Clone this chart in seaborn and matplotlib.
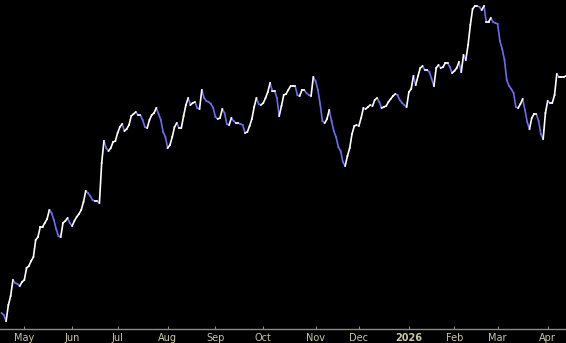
import numpy as np
import pandas as pd
import matplotlib
matplotlib.use("Agg")
import matplotlib.pyplot as plt
import seaborn as sns

# NYSE holidays in the period
holidays = ["2025-04-18", "2025-05-26", "2025-06-19", "2025-07-04", "2025-09-01",
            "2025-11-27", "2025-12-25", "2026-01-01", "2026-01-19", "2026-02-16",
            "2026-04-03"]
start_date = "2025-04-16"
end_date = "2026-04-14"

# closing level (one per trading day)
values_px = [
    313, 315, 321, 305, 296, 280, 283, 284, 286, 282,
    280, 268, 266, 261, 257, 240, 237, 227, 227, 223,
    219, 210, 213, 220, 229, 236, 237, 223, 221, 218,
    223, 226, 221, 217, 214, 210, 202, 191, 193, 196,
    200, 201, 201, 203, 163, 141, 148, 151, 148, 142,
    141, 133, 127, 124, 131, 129, 125, 116, 114, 112,
    115, 115, 120, 127, 128, 120, 115, 113, 108, 114,
    120, 132, 137, 148, 145, 137, 127, 123, 128, 128,
    116, 105, 98, 105, 103, 102, 108, 109, 90, 98,
    101, 102, 104, 108, 117, 119, 118, 109, 113, 124,
    125, 118, 121, 123, 123, 124, 125, 133, 132, 126,
    119, 107, 98, 104, 105, 103, 98, 92, 83, 91,
    91, 98, 116, 106, 95, 94, 90, 86, 86, 86,
    95, 96, 90, 90, 93, 95, 96, 77, 81, 90,
    104, 121, 123, 119, 110, 121, 131, 137, 147, 151,
    162, 166, 156, 148, 134, 126, 125, 126, 118, 108,
    109, 107, 105, 106, 100, 98, 102, 108, 107, 106,
    102, 99, 96, 94, 95, 100, 103, 105, 107, 92,
    89, 76, 85, 76, 68, 66, 70, 70, 72, 79,
    86, 68, 65, 68, 67, 63, 63, 67, 73, 71,
    68, 62, 72, 55, 60, 45, 25, 9, 6, 6,
    7, 10, 6, 22, 22, 18, 22, 23, 24, 41,
    49, 60, 80, 86, 89, 93, 107, 108, 104, 99,
    110, 122, 129, 118, 114, 114, 121, 134, 139, 113,
    101, 103, 103, 95, 74, 77, 77, 77, 76,
]
values = [330 - v for v in values_px]

month_labels = ["May", "Jun", "Jul", "Aug", "Sep", "Oct", "Nov", "Dec",
                "2026", "Feb", "Mar", "Apr"]

dates = pd.bdate_range(start_date, end_date, freq="C", holidays=holidays)
n = min(len(dates), len(values))
dates = dates[:n]
vals = np.array(values[:n], dtype=float)
idx = np.arange(n)

# build up/down segments
rows = []
for k in range(n - 1):
    d = "up" if vals[k + 1] >= vals[k] else "down"
    rows.append((k, idx[k], vals[k], d))
    rows.append((k, idx[k + 1], vals[k + 1], d))
seg = pd.DataFrame(rows, columns=["seg", "x", "y", "dir"])

fig = plt.figure(figsize=(5.66, 3.43), dpi=100, facecolor="black")
ax = fig.add_axes([0, 14 / 343, 1, 329 / 343])
ax.set_facecolor("black")

sns.lineplot(data=seg, x="x", y="y", units="seg", hue="dir", estimator=None,
             palette={"up": "#ffffff", "down": "#6c6cec"}, linewidth=1.2,
             legend=False, ax=ax, sort=False)

# month ticks at first trading day of each month
s = pd.Series(idx, index=dates)
first = s.groupby([dates.year, dates.month]).first()
tick_pos = list(first.values[1:1 + len(month_labels)])

i0 = list(dates).index(pd.Timestamp("2025-05-01"))
ax.set_xlim(i0 - 10.68, i0 + 238.0 - 0.0 + (566 - 24.3) / 2.2757 - 238.0)
ax.set_ylim(1, 330)
ax.set_xticks(tick_pos)
ax.set_xticklabels(month_labels)
ax.set_yticks([])
ax.set_xlabel("")
ax.set_ylabel("")
for sp in ["top", "left", "right"]:
    ax.spines[sp].set_visible(False)
ax.spines["bottom"].set_color("#8c8c8c")
ax.spines["bottom"].set_linewidth(1.0)
ax.tick_params(axis="x", direction="in", length=2, width=0.8, color="#8c8c8c",
               labelcolor="#c8c8a0", labelsize=7, pad=3)
for lab in ax.get_xticklabels():
    lab.set_family("DejaVu Sans")
    if lab.get_text() == "2026":
        lab.set_fontweight("bold")

fig.savefig("out.png", dpi=100, facecolor="black")
